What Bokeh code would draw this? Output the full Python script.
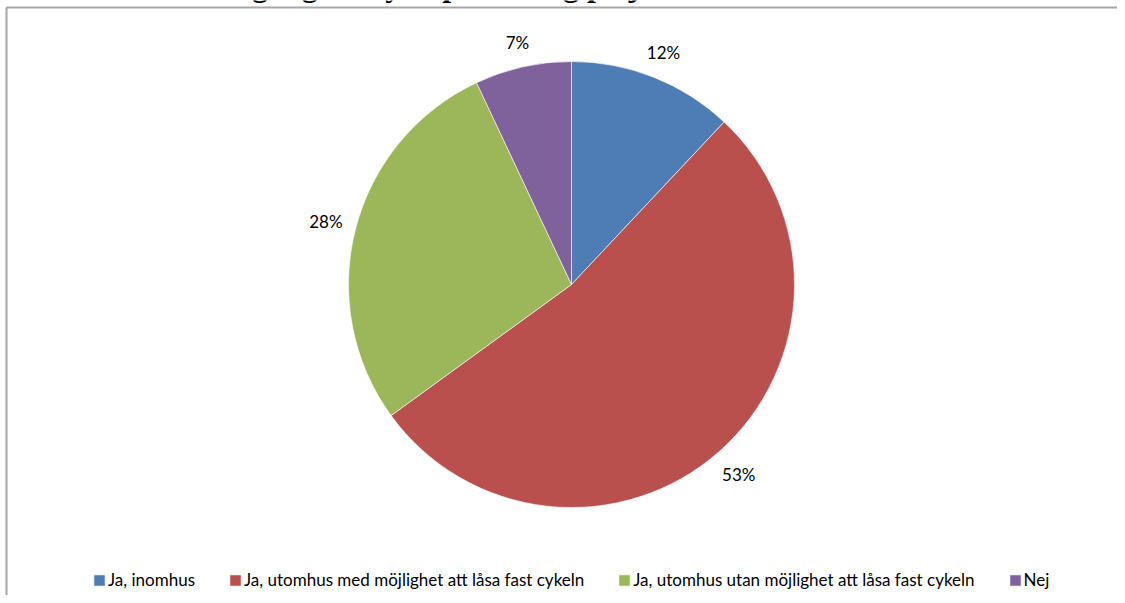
import numpy as np
from bokeh.plotting import figure
from bokeh.models import Range1d, Legend, LegendItem, ColumnDataSource
from bokeh.core.properties import value
from bokeh.embed import file_html
from bokeh.resources import INLINE

# ---- data ----
categories = ["Ja, inomhus",
              "Ja, utomhus med möjlighet att låsa fast cykeln",
              "Ja, utomhus utan möjlighet att låsa fast cykeln",
              "Nej"]
shares = [12, 53, 28, 7]
labels = ["12%", "53%", "28%", "7%"]
colors = ["#4E7DB6", "#B9504D", "#9BB75A", "#7F629C"]
title_text = "Tillgång till cykelparkering på jobbet"

W, H = 1117, 595
CX, CY, R = 571, H - 284, 223

p = figure(width=W, height=H, x_range=Range1d(0, W), y_range=Range1d(0, H),
           output_backend="svg", toolbar_location=None, min_border=0,
           outline_line_color=None, background_fill_color="white")
p.axis.visible = False
p.grid.visible = False

vals = np.array(shares, dtype=float)
frac = vals / vals.sum()
cum = np.concatenate([[0], np.cumsum(frac)])
start = np.pi / 2 - 2 * np.pi * cum[:-1]
end = np.pi / 2 - 2 * np.pi * cum[1:]
mid = (start + end) / 2

renderers = []
for i in range(len(categories)):
    r = p.wedge(x=CX, y=CY, radius=R, start_angle=start[i], end_angle=end[i],
                direction="clock", fill_color=colors[i], line_color="white",
                line_width=0.6)
    renderers.append(r)

# data labels outside the pie
lw, lh, gap = 32, 17, 13
dx, dy = np.cos(mid), np.sin(mid)
rl = R + gap + 0.5 * (np.abs(dx) * lw + np.abs(dy) * lh)
lab = ColumnDataSource(dict(x=CX + rl * dx, y=CY + rl * dy, t=labels))
p.text(x="x", y="y", text="t", source=lab, text_align="center",
       text_baseline="middle", text_font=value("Lato"),
       text_font_size="17px", text_color="#000000")

# chart border (top and left)
p.segment(x0=[6, 6], y0=[H - 7, H - 7], x1=[W, 6], y1=[H - 7, 0],
          line_color="#A6A6A6", line_width=2)

# title, almost entirely above the visible area as in the reference
p.text(x=[204], y=[H + 16], text=[title_text], text_align="left",
       text_baseline="alphabetic", text_font=value("Liberation Serif"),
       text_font_style="bold", text_font_size="32px", text_color="#000000")

legend = Legend(items=[LegendItem(label=c, renderers=[r]) for c, r in zip(categories, renderers)],
                orientation="horizontal", location=(92, 5),
                glyph_width=14, glyph_height=14, label_standoff=2, spacing=33,
                padding=0, margin=0, border_line_color=None,
                background_fill_alpha=0, label_text_font="Lato",
                label_text_font_size="17px", label_text_color="#000000",
                label_height=20)
p.add_layout(legend)

open("out.html", "w").write(file_html(p, INLINE))
